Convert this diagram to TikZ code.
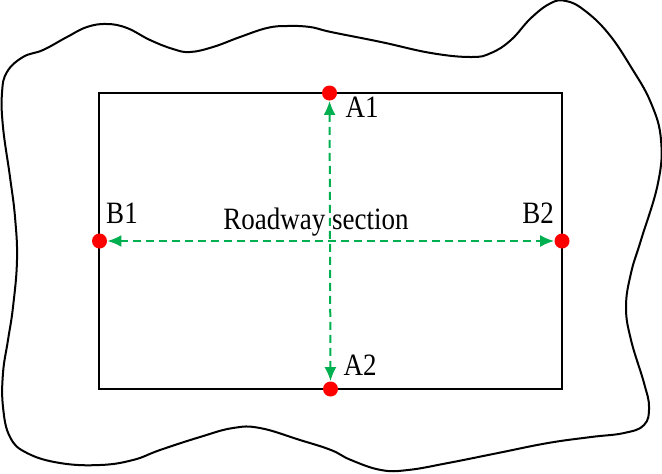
\documentclass[tikz,border=0pt]{standalone}
\usepackage{fontspec}
\setmainfont{Liberation Serif}
\usetikzlibrary{arrows.meta}
\definecolor{roadgreen}{RGB}{0,176,80}
\newcommand{\tallText}[1]{\scalebox{1}[1.15]{#1}}

\begin{document}
\begin{tikzpicture}[x=0.5pt,y=-0.5pt,
  pt/.style={circle,fill=red,inner sep=0pt,minimum size=7.5pt},
  lbl/.style={anchor=base,inner sep=0pt,font=\fontsize{13.5}{16}\selectfont},
  axis/.style={{Latex[length=7pt,width=6pt]}-{Latex[length=7pt,width=6pt]},
    dash pattern=on 4pt off 2.5pt,line width=1pt,draw=roadgreen}]
\useasboundingbox (0,0) rectangle (662,473);
% rock mass boundary
\draw[line width=1pt] plot[smooth cycle,tension=0.7] coordinates {
 (2,93) (7,72) (23,57) (43,50) (67,37) (87,27) (107,24) (127,28) (150,40)
 (173,49) (190,52) (213,47) (240,37) (267,28) (287,26) (310,27) (331,32)
 (381,42) (431,53) (471,57) (491,53) (511,40) (531,18) (551,3) (566,1)
 (584,10) (608,33) (631,67) (651,103) (661,140) (658,183) (641,240)
 (631,273) (626,307) (631,340) (644,383) (649,407) (644,425) (624,433)
 (591,437) (548,443) (498,453) (448,463) (408,470) (381,470) (351,460)
 (331,450) (300,440) (260,428) (233,428) (200,437) (160,450) (133,460)
 (100,465) (60,463) (27,453) (10,437) (3,407) (3,373) (8,340) (13,307)
 (17,260) (15,217) (10,177) (3,127)};
% roadway
\draw[line width=1pt] (99,93) rectangle (562,389);
\node[pt] (A1) at (329.5,93) {};
\node[pt] (A2) at (330.5,389) {};
\node[pt] (B1) at (99.5,241) {};
\node[pt] (B2) at (562,241) {};
\draw[axis] (A1) -- (A2);
\draw[axis] (B1) -- (B2);
\node[lbl] (tA1) at (362,117) {\tallText{A1}};
\node[lbl] (tA2) at (360,375) {\tallText{A2}};
\node[lbl] (tB1) at (122,223) {\tallText{B1}};
\node[lbl] (tB2) at (538,223) {\tallText{B2}};
\node[lbl] (sec) at (316,229) {\tallText{Roadway section}};
\end{tikzpicture}
\end{document}
